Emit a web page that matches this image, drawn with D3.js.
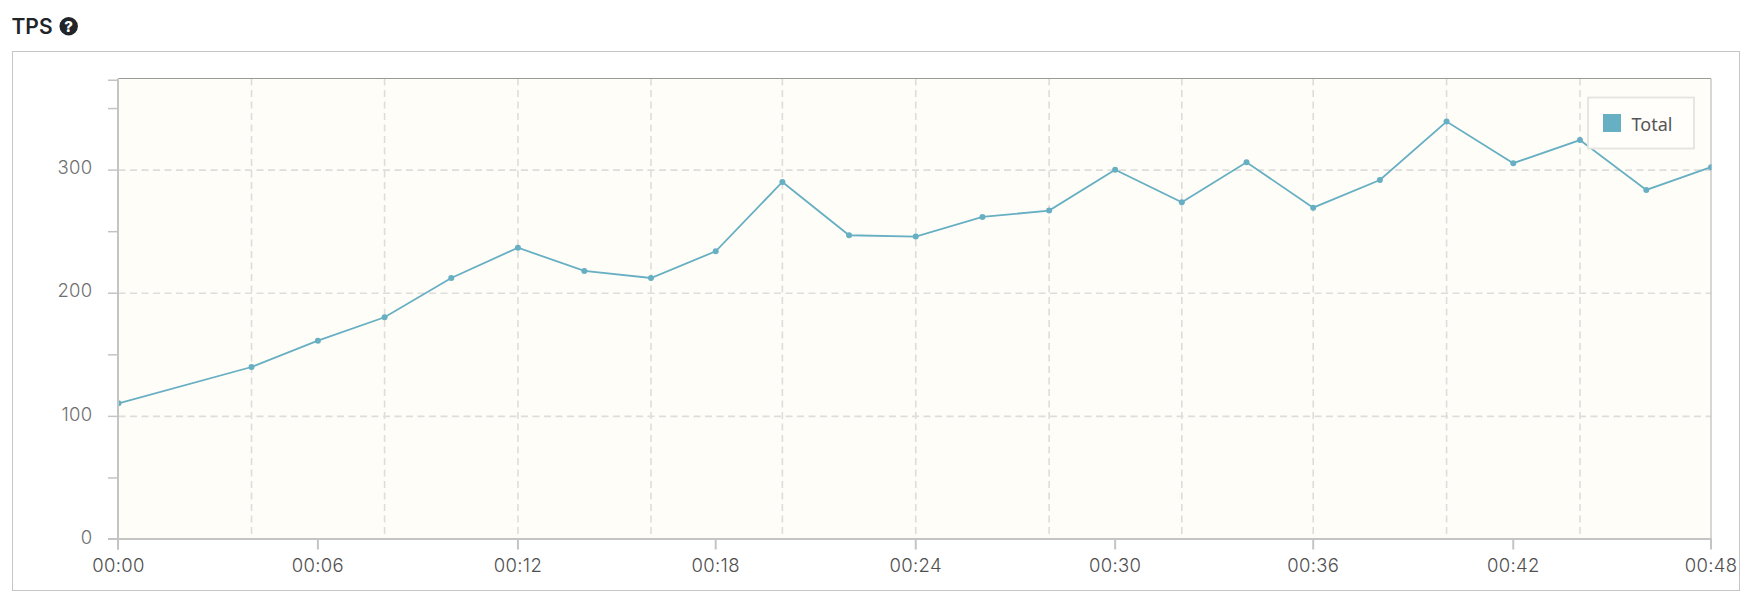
<!DOCTYPE html>
<html><head><meta charset="utf-8">
<script src="https://cdn.jsdelivr.net/npm/d3@7/dist/d3.min.js"></script>
<style>html,body{margin:0;background:#fff}svg{display:block}</style>
</head><body><svg id="c" width="1764" height="608"></svg>
<script>
const minutes=[0,4.01,6.01,8.02,10.03,12.04,14.04,16.05,18,20.01,22.02,24.03,26.04,28.05,30.04,32.05,34,36.01,38.02,40.03,42.04,44.05,46.05,48];
const tps=[110.6,140.1,161.5,180.5,212.4,237,218.1,212.4,234.1,290.4,247.1,246,262,267.1,300.3,273.9,306.4,269.5,292,339.4,305.6,324.4,283.9,302.4];
const xLabelTicks=[0,6.01,12.04,18,24.03,30.04,36.01,42.04,48];
const xGridTicks=[4.01,8.02,12.04,16.05,20.01,24.03,28.05,32.05,36.01,40.03,44.05];
const yLabelTicks=[0,100,200,300];
const yMinorTicks=[50,150,250,350,373];
const yGridTicks=[100,200,300];
const seriesName="Total";
const fmt=m=>"00:"+String(Math.round(m)).padStart(2,"0");

const L=118.5,R=1711,T=78.5,B=539;
const x=d3.scaleLinear().domain([0,48]).range([L,R]);
const y=d3.scaleLinear().domain([0,374]).range([B+.5,T+.5]);
const svg=d3.select("#c");

svg.append("text").attr("x",11.5).attr("y",34).attr("font-family","Inter").attr("font-weight",600).attr("font-size",21).attr("fill","#212529").text("TPS");
svg.append("circle").attr("cx",68.7).attr("cy",26.3).attr("r",9.2).attr("fill","#212529");
svg.append("text").attr("x",68.7).attr("y",32).attr("text-anchor","middle").attr("font-family","Inter").attr("font-weight",800).attr("font-size",15).attr("fill","#fff").text("?");

svg.append("rect").attr("x",12.5).attr("y",51.5).attr("width",1727).attr("height",539).attr("fill","#fff").attr("stroke","#c6c6c6");
svg.append("rect").attr("x",L).attr("y",T).attr("width",R-L).attr("height",B-T).attr("fill","#fffdf8");

const grid=svg.append("g").attr("stroke","#dddddb").attr("stroke-width",1.6).attr("stroke-dasharray","7 4.5");
grid.selectAll(".v").data(xGridTicks).join("line").attr("x1",d=>x(d)).attr("x2",d=>x(d)).attr("y1",T).attr("y2",B);
grid.selectAll(".h").data(yGridTicks).join("line").attr("x1",L).attr("x2",R).attr("y1",d=>y(d)).attr("y2",d=>y(d));

svg.append("line").attr("x1",L).attr("x2",R).attr("y1",T).attr("y2",T).attr("stroke","#9a9a98");
svg.append("line").attr("x1",R).attr("x2",R).attr("y1",T).attr("y2",B).attr("stroke","#bdbdb9").attr("stroke-width",1.2);

svg.append("clipPath").attr("id","clip").append("rect").attr("x",L-.5).attr("y",T).attr("width",R-L+1).attr("height",B-T);
const plot=svg.append("g").attr("clip-path","url(#clip)");
const line=d3.line().x((d,i)=>x(minutes[i])).y(d=>y(d));
plot.append("path").attr("d",line(tps)).attr("fill","none").attr("stroke","#67afc3").attr("stroke-width",1.8);
plot.selectAll("circle").data(tps).join("circle").attr("cx",(d,i)=>x(minutes[i])).attr("cy",d=>y(d)).attr("r",3).attr("fill","#67afc3");

const axisC="#c4c4c4";
const ax=svg.append("g").attr("stroke",axisC).attr("stroke-width",2);
ax.append("line").attr("x1",L-.5).attr("x2",L-.5).attr("y1",T).attr("y2",B+10.5);
ax.append("line").attr("x1",108).attr("x2",R+.5).attr("y1",B).attr("y2",B);
ax.selectAll(".xt").data(xLabelTicks).join("line").attr("x1",d=>x(d)-(d==0?.5:0)).attr("x2",d=>x(d)-(d==0?.5:0)).attr("y1",B).attr("y2",B+10.5);
ax.selectAll(".yt").data(yLabelTicks.concat(yMinorTicks)).join("line").attr("x1",108).attr("x2",L-.5).attr("y1",d=>d===0?B:y(d)).attr("y2",d=>d===0?B:y(d)).attr("stroke-width",1.5);

const FONT="Inter";
svg.selectAll(".yl").data(yLabelTicks).join("text").attr("x",92.5).attr("y",d=>y(d)+4.2)
  .attr("text-anchor","end").attr("font-family",FONT).attr("font-weight",300).attr("font-size",18.5).attr("letter-spacing",.3).attr("fill","#707070").text(d=>d);
svg.selectAll(".xl").data(xLabelTicks).join("text").attr("x",d=>x(d)).attr("y",572.3)
  .attr("text-anchor","middle").attr("font-family",FONT).attr("font-weight",300).attr("font-size",18.5).attr("letter-spacing",.3).attr("fill","#4f4f4f").text(fmt);

const lg=svg.append("g");
lg.append("rect").attr("x",1588).attr("y",97.5).attr("width",106).attr("height",51).attr("fill","#fffefb").attr("stroke","#e4e4e0").attr("stroke-width",1.8);
lg.append("rect").attr("x",1603).attr("y",114).attr("width",18).attr("height",18).attr("fill","#67afc3");
lg.append("text").attr("x",1631.5).attr("y",131).attr("font-family","Noto Sans").attr("font-size",18).attr("fill","#555").text(seriesName);
</script></body></html>
